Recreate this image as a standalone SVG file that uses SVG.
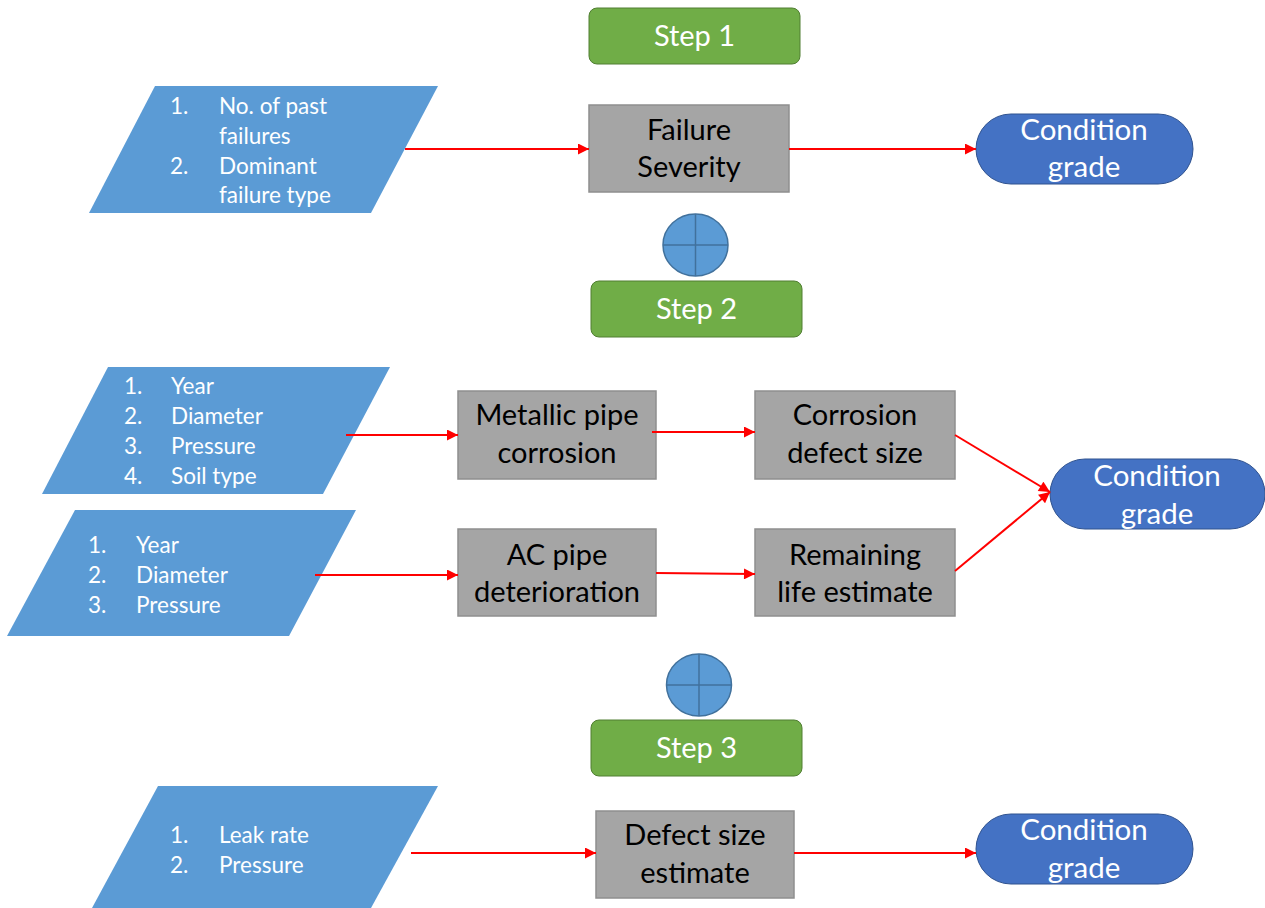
<svg xmlns="http://www.w3.org/2000/svg" width="1265" height="908" viewBox="0 0 1265 908">
<defs>
<style>
text{font-family:Lato,"Open Sans","Liberation Sans",sans-serif;fill:#fff}
.step{fill:#70AD47;stroke:#507E32;stroke-width:1}
.para{fill:#5B9BD5}
.box{fill:#A5A5A5;stroke:#8F8F8F;stroke-width:1.5}
.pill{fill:#4472C4;stroke:#2F528F;stroke-width:1}
.circ{fill:#5B9BD5;stroke:#41719C;stroke-width:1.5}
.st{font-size:29px;text-anchor:middle}
.bt{font-size:29px;text-anchor:middle;fill:#000}
.pt{font-size:29.5px;text-anchor:middle}
.li{font-size:22.5px}
.conn line{stroke:#FF0000;stroke-width:2;marker-end:url(#ah)}
</style>
<marker id="ah" viewBox="0 0 10 10" refX="10" refY="5" markerWidth="6" markerHeight="5.5" orient="auto" markerUnits="strokeWidth">
<path d="M0,0 L10,5 L0,10 z" fill="#FF0000"/>
</marker>
</defs>
<rect width="1265" height="908" fill="#fff"/>

<g id="step1"><rect class="step" x="589" y="8" width="211" height="56" rx="8"/><text class="st" x="694.5" y="46">Step 1</text></g>
<g id="input1"><polygon class="para" points="155,86 438,86 371,213 89,213"/>
<text class="li" x="170" y="114">1.</text><text class="li" x="219" y="114">No. of past</text>
<text class="li" x="219" y="144">failures</text>
<text class="li" x="170" y="174">2.</text><text class="li" x="219" y="174">Dominant</text>
<text class="li" x="219" y="203">failure type</text></g>
<g id="failureSeverity"><rect class="box" x="589" y="105" width="200" height="87"/><text class="bt" x="689" y="140">Failure</text><text class="bt" x="689" y="177">Severity</text></g>
<g id="grade1"><rect class="pill" x="976" y="114" width="217" height="70" rx="35"/><text class="pt" x="1084" y="140">Condition</text><text class="pt" x="1084" y="177">grade</text></g>
<g id="sum1"><ellipse class="circ" cx="695.5" cy="245" rx="32.5" ry="31"/><line x1="663" y1="245" x2="728" y2="245" stroke="#41719C" stroke-width="1.5"/><line x1="695.5" y1="214" x2="695.5" y2="276" stroke="#41719C" stroke-width="1.5"/></g>

<g id="step2"><rect class="step" x="591" y="281" width="211" height="56" rx="8"/><text class="st" x="696.5" y="319">Step 2</text></g>
<g id="input2"><polygon class="para" points="108,367 390,367 323,494 42,494"/>
<text class="li" x="124" y="394">1.</text><text class="li" x="171" y="394">Year</text>
<text class="li" x="124" y="424">2.</text><text class="li" x="171" y="424">Diameter</text>
<text class="li" x="124" y="454">3.</text><text class="li" x="171" y="454">Pressure</text>
<text class="li" x="124" y="484">4.</text><text class="li" x="171" y="484">Soil type</text></g>
<g id="metallic"><rect class="box" x="458" y="391" width="198" height="88"/><text class="bt" x="557" y="425">Metallic pipe</text><text class="bt" x="557" y="463">corrosion</text></g>
<g id="corrosionDefect"><rect class="box" x="755" y="391" width="200" height="88"/><text class="bt" x="855" y="425">Corrosion</text><text class="bt" x="855" y="463">defect size</text></g>
<g id="input3"><polygon class="para" points="75,510 356,510 289,636 7,636"/>
<text class="li" x="88" y="553">1.</text><text class="li" x="136" y="553">Year</text>
<text class="li" x="88" y="583">2.</text><text class="li" x="136" y="583">Diameter</text>
<text class="li" x="88" y="613">3.</text><text class="li" x="136" y="613">Pressure</text></g>
<g id="acPipe"><rect class="box" x="458" y="529" width="198" height="87"/><text class="bt" x="557" y="565">AC pipe</text><text class="bt" x="557" y="602">deterioration</text></g>
<g id="remainingLife"><rect class="box" x="755" y="529" width="200" height="87"/><text class="bt" x="855" y="565">Remaining</text><text class="bt" x="855" y="602">life estimate</text></g>
<g id="grade2"><rect class="pill" x="1050" y="459" width="215" height="70" rx="35"/><text class="pt" x="1157" y="486">Condition</text><text class="pt" x="1157" y="524">grade</text></g>
<g id="sum2"><ellipse class="circ" cx="699" cy="685" rx="32.5" ry="31"/><line x1="666.5" y1="685" x2="731.5" y2="685" stroke="#41719C" stroke-width="1.5"/><line x1="699" y1="654" x2="699" y2="716" stroke="#41719C" stroke-width="1.5"/></g>

<g id="step3"><rect class="step" x="591" y="720" width="211" height="56" rx="8"/><text class="st" x="696.5" y="758">Step 3</text></g>
<g id="input4"><polygon class="para" points="158,786 438,786 371,908 92,908"/>
<text class="li" x="170" y="843">1.</text><text class="li" x="219" y="843">Leak rate</text>
<text class="li" x="170" y="873">2.</text><text class="li" x="219" y="873">Pressure</text></g>
<g id="defectSize"><rect class="box" x="596" y="811" width="198" height="87"/><text class="bt" x="695" y="845">Defect size</text><text class="bt" x="695" y="883">estimate</text></g>
<g id="grade3"><rect class="pill" x="976" y="814" width="217" height="70" rx="35"/><text class="pt" x="1084" y="840">Condition</text><text class="pt" x="1084" y="878">grade</text></g>

<g class="conn" id="connectors">
<line x1="405" y1="149" x2="589" y2="149"/>
<line x1="789" y1="149" x2="976" y2="149"/>
<line x1="346" y1="435" x2="458" y2="435"/>
<line x1="652" y1="432" x2="755" y2="432"/>
<line x1="315" y1="575" x2="458" y2="575"/>
<line x1="656" y1="573" x2="755" y2="574"/>
<line x1="955" y1="435" x2="1050" y2="492"/>
<line x1="955" y1="571" x2="1050" y2="492"/>
<line x1="411" y1="853" x2="596" y2="853"/>
<line x1="794" y1="853" x2="976" y2="853"/>
</g>
</svg>
